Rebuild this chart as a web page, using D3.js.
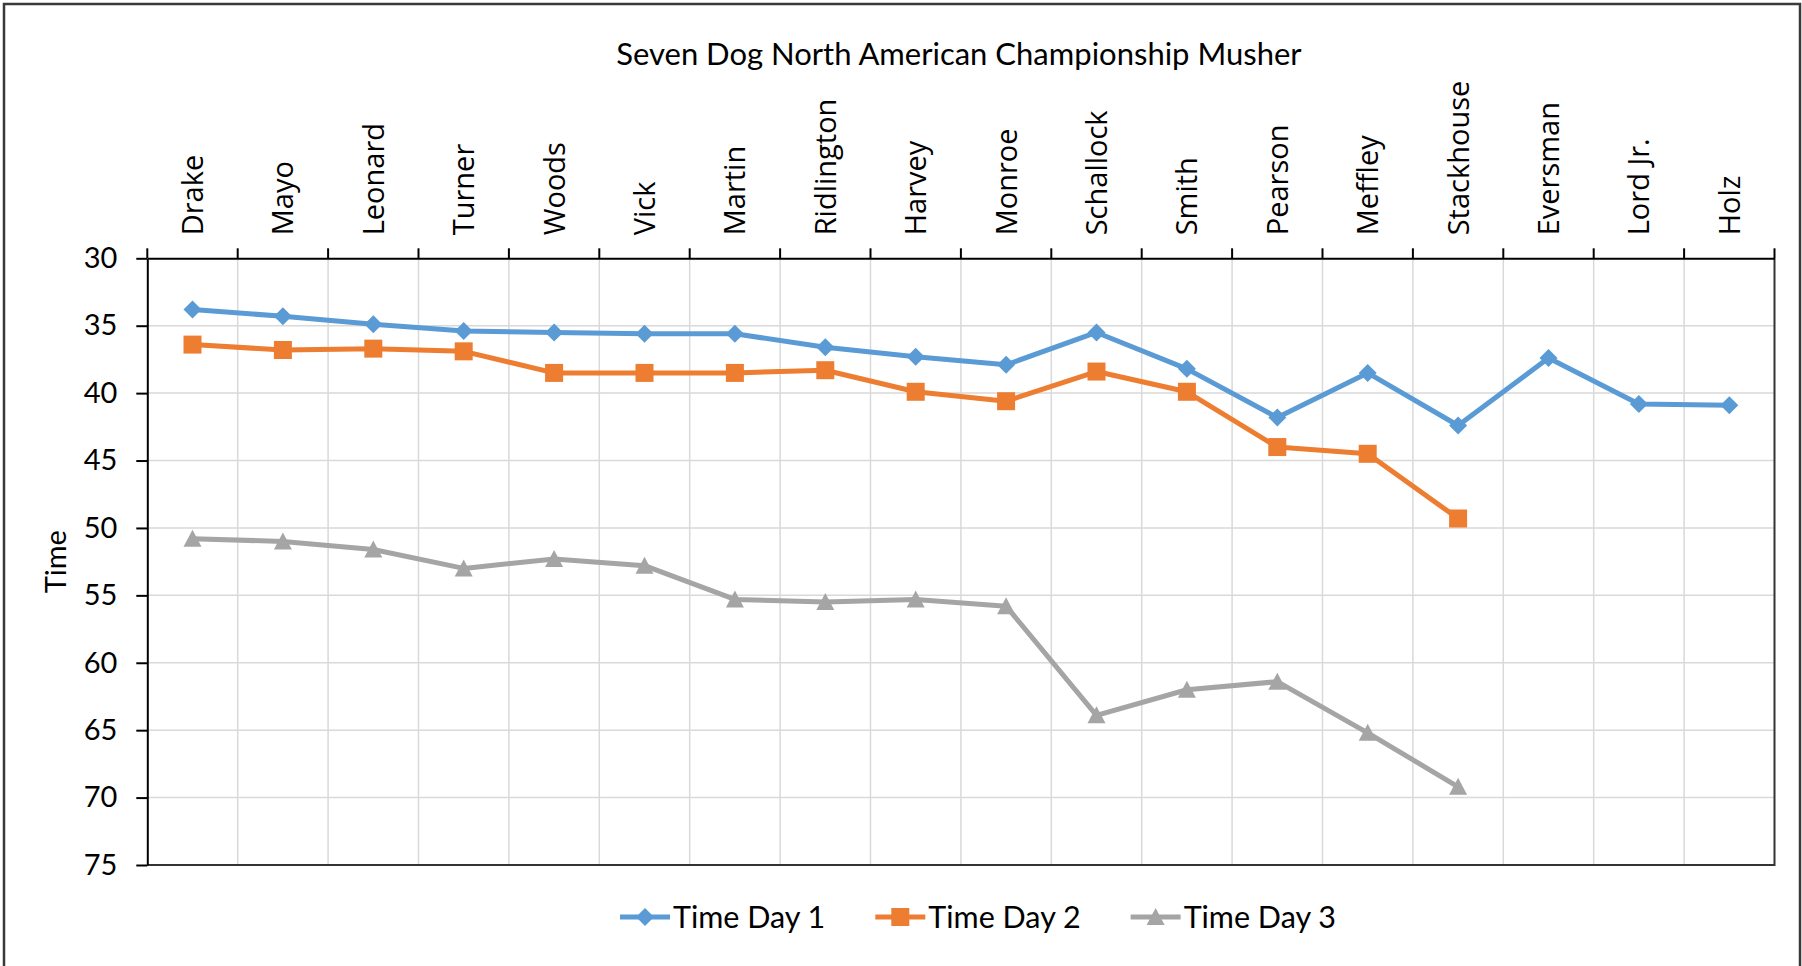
<!DOCTYPE html>
<html>
<head>
<meta charset="utf-8">
<script src="https://cdn.jsdelivr.net/npm/d3@7"></script>
<style>
  html, body { margin: 0; padding: 0; background: #fff; }
  svg { display: block; }
</style>
</head>
<body>
<div id="chart"></div>
<script>
// Seven Dog North American Championship — times per musher, y axis reversed

const mushers = ['Drake', 'Mayo', 'Leonard', 'Turner', 'Woods', 'Vick', 'Martin', 'Ridlington',
  'Harvey', 'Monroe', 'Schallock', 'Smith', 'Pearson', 'Meffley', 'Stackhouse', 'Eversman', 'Lord Jr.', 'Holz']

const timeDay1 = [33.8, 34.3, 34.9, 35.4, 35.5, 35.6, 35.6, 36.6, 37.3, 37.9, 35.5, 38.2, 41.8, 38.5, 42.4, 37.4, 40.8, 40.9]
const timeDay2 = [36.4, 36.8, 36.7, 36.9, 38.5, 38.5, 38.5, 38.3, 39.9, 40.6, 38.4, 39.9, 44.0, 44.5, 49.3, null, null, null]
const timeDay3 = [50.8, 51.0, 51.6, 53.0, 52.3, 52.8, 55.3, 55.5, 55.3, 55.8, 63.9, 62.0, 61.4, 65.2, 69.2, null, null, null]

const yTicks = [30, 35, 40, 45, 50, 55, 60, 65, 70, 75]
const seriesNames = ['Time Day 1', 'Time Day 2', 'Time Day 3']

const W = 1802, H = 966
const margin = { top: 258.3, right: 27.5, bottom: 101, left: 147.3 }
const calibri = 'Lato, "Liberation Sans", sans-serif'
const segoe = '"Open Sans", "Noto Sans", sans-serif'

const series = [
  { name: seriesNames[0], values: timeDay1, color: '#5B9BD5', marker: 'diamond' },
  { name: seriesNames[1], values: timeDay2, color: '#ED7D31', marker: 'square' },
  { name: seriesNames[2], values: timeDay3, color: '#A5A5A5', marker: 'triangle' },
]

function markerPath(type) {
  if (type === 'diamond') return 'M0,-9L9,0L0,9L-9,0Z'
  if (type === 'square') return 'M-9,-9H9V9H-9Z'
  return 'M0,-9L9,8H-9Z'
}

const svg = d3.select('#chart').append('svg')
  .attr('width', W)
  .attr('height', H)

// outer chart border
svg.append('rect')
  .attr('x', 4).attr('y', 4)
  .attr('width', W - 6).attr('height', H + 40)
  .attr('fill', '#fff')
  .attr('stroke', '#3a3a3a')
  .attr('stroke-width', 2.5)

const x = d3.scaleBand()
  .domain(mushers)
  .range([margin.left, W - margin.right])
  .padding(0)

const y = d3.scaleLinear()
  .domain([30, 75])
  .range([margin.top, H - margin.bottom])

const plotL = margin.left, plotR = W - margin.right
const plotT = margin.top, plotB = H - margin.bottom

// gridlines
const edges = mushers.map(d => x(d)).concat([plotR])
svg.append('g')
  .selectAll('line')
  .data(edges.slice(1, -1))
  .join('line')
  .attr('x1', d => d).attr('x2', d => d)
  .attr('y1', plotT).attr('y2', plotB)
  .attr('stroke', '#d9d9d9')
  .attr('stroke-width', 1.5)

svg.append('g')
  .selectAll('line')
  .data(yTicks.slice(1, -1))
  .join('line')
  .attr('x1', plotL).attr('x2', plotR)
  .attr('y1', d => y(d)).attr('y2', d => y(d))
  .attr('stroke', '#d9d9d9')
  .attr('stroke-width', 1.5)

// plot border (bottom / right)
svg.append('path')
  .attr('d', `M${plotL},${plotB}H${plotR}V${plotT}`)
  .attr('fill', 'none')
  .attr('stroke', '#333')
  .attr('stroke-width', 2)

// category axis on top (y reversed)
svg.append('g')
  .attr('class', 'x-axis')
  .attr('transform', `translate(0,${plotT})`)
  .call(d3.axisTop(x).tickSize(0).tickSizeOuter(0))
  .call(g => {
    g.select('.domain').attr('stroke', '#000').attr('stroke-width', 2)
    g.selectAll('.tick text').remove()
  })

svg.append('g')
  .selectAll('line')
  .data(edges)
  .join('line')
  .attr('x1', d => d).attr('x2', d => d)
  .attr('y1', plotT - 10).attr('y2', plotT)
  .attr('stroke', '#000')
  .attr('stroke-width', 2)

svg.append('g')
  .selectAll('text')
  .data(mushers)
  .join('text')
  .attr('transform', d => `translate(${x(d) + x.bandwidth() / 2},${plotT - 23}) rotate(-90)`)
  .attr('dy', '0.36em')
  .attr('text-anchor', 'start')
  .attr('font-family', segoe)
  .attr('font-size', '29px')
  .attr('fill', '#000')
  .text(d => d)

// value axis
svg.append('g')
  .attr('class', 'y-axis')
  .attr('transform', `translate(${plotL},0)`)
  .call(d3.axisLeft(y).tickValues(yTicks).tickSize(11).tickPadding(19).tickSizeOuter(0))
  .call(g => {
    g.select('.domain').attr('stroke', '#000').attr('stroke-width', 2)
    g.selectAll('.tick line').attr('stroke', '#000').attr('stroke-width', 2)
    g.selectAll('.tick text')
      .attr('fill', '#000')
      .attr('font-size', '29px')
      .attr('font-family', calibri)
  })

svg.append('text')
  .attr('transform', `translate(56,${(plotT + plotB) / 2}) rotate(-90)`)
  .attr('text-anchor', 'middle')
  .attr('dy', '0.35em')
  .attr('font-family', calibri)
  .attr('font-size', '29px')
  .attr('fill', '#000')
  .text('Time')

// title
svg.append('text')
  .attr('x', (plotL + plotR) / 2 - 2)
  .attr('y', 65)
  .attr('text-anchor', 'middle')
  .attr('font-family', calibri)
  .attr('font-size', '31px')
  .attr('fill', '#000')
  .text('Seven Dog North American Championship Musher')

// series
const line = d3.line()
  .defined(d => d.v != null)
  .x(d => x(d.name) + x.bandwidth() / 2)
  .y(d => y(d.v))

series.forEach(s => {
  const pts = mushers.map((name, i) => ({ name, v: s.values[i] }))
  const g = svg.append('g')
  g.append('path')
    .datum(pts)
    .attr('d', line)
    .attr('fill', 'none')
    .attr('stroke', s.color)
    .attr('stroke-width', 5)
    .attr('stroke-linejoin', 'round')
  g.selectAll('path.marker')
    .data(pts.filter(d => d.v != null))
    .join('path')
    .attr('class', 'marker')
    .attr('transform', d => `translate(${x(d.name) + x.bandwidth() / 2},${y(d.v)})`)
    .attr('d', markerPath(s.marker))
    .attr('fill', s.color)
})

// legend
const legend = svg.append('g').attr('transform', 'translate(620,917)')
let lx = 0
series.forEach(s => {
  const item = legend.append('g').attr('transform', `translate(${lx},0)`)
  item.append('line')
    .attr('x1', 0).attr('x2', 50)
    .attr('stroke', s.color)
    .attr('stroke-width', 5)
  item.append('path')
    .attr('transform', 'translate(25,0)')
    .attr('d', markerPath(s.marker))
    .attr('fill', s.color)
  const t = item.append('text')
    .attr('x', 53)
    .attr('dy', '0.35em')
    .attr('font-family', calibri)
    .attr('font-size', '30.5px')
    .attr('fill', '#000')
    .text(s.name)
  lx += 53 + t.node().getComputedTextLength() + 50
})
</script>
</body>
</html>
